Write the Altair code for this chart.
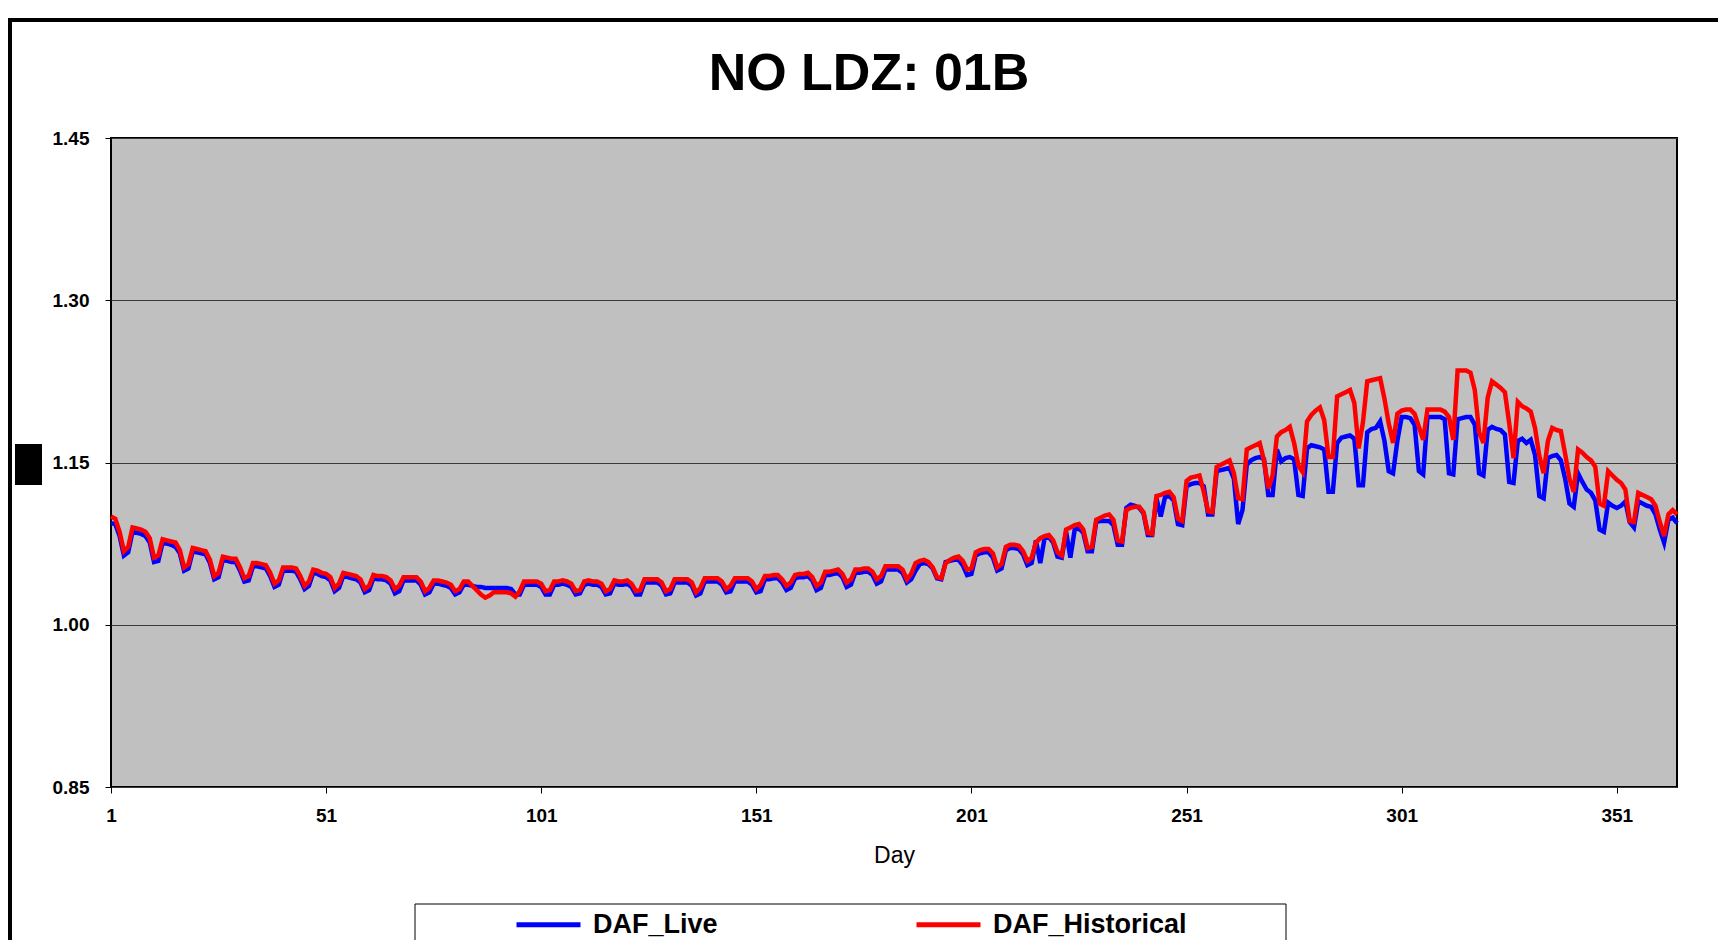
import altair as alt
import pandas as pd

# ---------------- data ----------------
days = list(range(1, 366))

daf_historical = [
    1.100, 1.098, 1.086, 1.068, 1.072,
    1.090, 1.089, 1.088, 1.086, 1.080, 1.062, 1.064,
    1.079, 1.078, 1.077, 1.076, 1.069, 1.053, 1.056,
    1.071, 1.070, 1.069, 1.068, 1.060, 1.045, 1.048,
    1.063, 1.062, 1.061, 1.061, 1.053, 1.043, 1.045,
    1.057, 1.057, 1.056, 1.055, 1.048, 1.038, 1.041,
    1.053, 1.053, 1.053, 1.052, 1.045, 1.036, 1.040,
    1.051, 1.050, 1.048, 1.047, 1.044, 1.034, 1.038,
    1.048, 1.047, 1.046, 1.045, 1.042, 1.033, 1.036,
    1.046, 1.045, 1.045, 1.044, 1.041, 1.033, 1.036,
    1.044, 1.044, 1.044, 1.044, 1.040, 1.031, 1.034,
    1.041, 1.041, 1.040, 1.039, 1.037, 1.031, 1.033,
    1.040, 1.040, 1.036, 1.032, 1.028, 1.025, 1.027,
    1.030, 1.030, 1.030, 1.030, 1.029, 1.026, 1.031,
    1.040, 1.040, 1.040, 1.040, 1.038, 1.031, 1.032,
    1.040, 1.040, 1.041, 1.040, 1.038, 1.031, 1.032,
    1.040, 1.041, 1.040, 1.040, 1.038, 1.031, 1.033,
    1.041, 1.040, 1.040, 1.041, 1.038, 1.031, 1.032,
    1.042, 1.042, 1.042, 1.042, 1.039, 1.031, 1.033,
    1.042, 1.042, 1.042, 1.042, 1.039, 1.030, 1.034,
    1.043, 1.043, 1.043, 1.043, 1.040, 1.033, 1.036,
    1.043, 1.043, 1.043, 1.043, 1.040, 1.033, 1.037,
    1.045, 1.045, 1.046, 1.046, 1.042, 1.036, 1.039,
    1.046, 1.047, 1.047, 1.048, 1.044, 1.036, 1.039,
    1.049, 1.049, 1.050, 1.051, 1.047, 1.039, 1.042,
    1.051, 1.051, 1.052, 1.052, 1.049, 1.042, 1.045,
    1.054, 1.054, 1.054, 1.054, 1.051, 1.042, 1.047,
    1.057, 1.059, 1.060, 1.058, 1.053, 1.044, 1.043,
    1.057, 1.060, 1.062, 1.063, 1.059, 1.051, 1.052,
    1.067, 1.069, 1.070, 1.070, 1.066, 1.053, 1.056,
    1.072, 1.074, 1.074, 1.073, 1.068, 1.059, 1.062,
    1.076, 1.080, 1.082, 1.083, 1.078, 1.067, 1.064,
    1.088, 1.090, 1.092, 1.093, 1.088, 1.071, 1.072,
    1.097, 1.099, 1.101, 1.102, 1.097, 1.078, 1.077,
    1.106, 1.108, 1.109, 1.109, 1.104, 1.085, 1.084,
    1.119, 1.120, 1.122, 1.123, 1.118, 1.098, 1.096,
    1.133, 1.136, 1.137, 1.138, 1.123, 1.105, 1.104,
    1.146, 1.148, 1.150, 1.152, 1.140, 1.117, 1.116,
    1.162, 1.164, 1.166, 1.168, 1.152, 1.126, 1.138,
    1.174, 1.178, 1.180, 1.183, 1.168, 1.147, 1.141,
    1.188, 1.194, 1.198, 1.201, 1.189, 1.155, 1.155,
    1.211, 1.213, 1.215, 1.217, 1.205, 1.163, 1.187,
    1.225, 1.226, 1.227, 1.228, 1.209, 1.186, 1.168,
    1.195, 1.198, 1.199, 1.199, 1.195, 1.183, 1.171,
    1.199, 1.199, 1.199, 1.199, 1.197, 1.192, 1.171,
    1.235, 1.235, 1.235, 1.233, 1.217, 1.178, 1.168,
    1.210, 1.225, 1.222, 1.219, 1.215, 1.186, 1.154,
    1.206, 1.202, 1.200, 1.197, 1.182, 1.156, 1.140,
    1.170, 1.182, 1.180, 1.179, 1.158, 1.135, 1.123,
    1.162, 1.159, 1.155, 1.152, 1.146, 1.112, 1.110,
    1.142, 1.138, 1.134, 1.131, 1.125, 1.096, 1.095,
    1.122, 1.120, 1.118, 1.116, 1.110, 1.095, 1.082,
    1.102, 1.106, 1.102,
]

daf_live = [
    1.094, 1.093, 1.082, 1.064, 1.067,
    1.086, 1.085, 1.084, 1.082, 1.076, 1.058, 1.059,
    1.076, 1.075, 1.074, 1.072, 1.066, 1.050, 1.052,
    1.068, 1.067, 1.066, 1.065, 1.057, 1.042, 1.044,
    1.060, 1.059, 1.058, 1.058, 1.050, 1.040, 1.041,
    1.054, 1.054, 1.053, 1.052, 1.045, 1.035, 1.037,
    1.050, 1.050, 1.050, 1.049, 1.042, 1.033, 1.036,
    1.048, 1.047, 1.045, 1.044, 1.041, 1.031, 1.034,
    1.045, 1.044, 1.043, 1.042, 1.039, 1.030, 1.032,
    1.043, 1.042, 1.042, 1.041, 1.038, 1.029, 1.031,
    1.041, 1.041, 1.041, 1.041, 1.037, 1.028, 1.030,
    1.038, 1.038, 1.037, 1.036, 1.034, 1.028, 1.030,
    1.037, 1.037, 1.036, 1.035, 1.035, 1.034, 1.034,
    1.034, 1.034, 1.034, 1.034, 1.033, 1.028, 1.028,
    1.037, 1.037, 1.037, 1.037, 1.035, 1.028, 1.028,
    1.037, 1.037, 1.038, 1.037, 1.035, 1.028, 1.029,
    1.037, 1.038, 1.037, 1.037, 1.035, 1.028, 1.029,
    1.038, 1.037, 1.037, 1.038, 1.035, 1.028, 1.028,
    1.039, 1.039, 1.039, 1.039, 1.036, 1.028, 1.029,
    1.039, 1.039, 1.039, 1.039, 1.036, 1.027, 1.029,
    1.040, 1.040, 1.040, 1.040, 1.037, 1.030, 1.031,
    1.040, 1.040, 1.040, 1.040, 1.037, 1.030, 1.031,
    1.042, 1.042, 1.043, 1.043, 1.039, 1.032, 1.034,
    1.043, 1.044, 1.044, 1.045, 1.041, 1.032, 1.034,
    1.046, 1.046, 1.047, 1.048, 1.044, 1.035, 1.037,
    1.048, 1.048, 1.049, 1.049, 1.046, 1.038, 1.040,
    1.051, 1.051, 1.051, 1.051, 1.048, 1.039, 1.042,
    1.050, 1.056, 1.057, 1.056, 1.052, 1.043, 1.042,
    1.058, 1.059, 1.060, 1.060, 1.055, 1.046, 1.047,
    1.064, 1.066, 1.067, 1.067, 1.062, 1.050, 1.052,
    1.069, 1.071, 1.071, 1.070, 1.065, 1.055, 1.057,
    1.078, 1.057, 1.080, 1.081, 1.076, 1.063, 1.062,
    1.086, 1.062, 1.088, 1.089, 1.085, 1.068, 1.068,
    1.095, 1.096, 1.096, 1.096, 1.092, 1.074, 1.074,
    1.108, 1.111, 1.110, 1.108, 1.103, 1.083, 1.083,
    1.117, 1.100, 1.118, 1.119, 1.115, 1.093, 1.092,
    1.128, 1.130, 1.131, 1.131, 1.128, 1.102, 1.102,
    1.142, 1.143, 1.144, 1.145, 1.135, 1.093, 1.106,
    1.148, 1.152, 1.154, 1.155, 1.153, 1.120, 1.120,
    1.162, 1.151, 1.154, 1.155, 1.153, 1.120, 1.119,
    1.163, 1.166, 1.165, 1.164, 1.162, 1.123, 1.123,
    1.168, 1.173, 1.174, 1.175, 1.172, 1.129, 1.129,
    1.178, 1.181, 1.182, 1.188, 1.170, 1.142, 1.140,
    1.170, 1.192, 1.192, 1.191, 1.185, 1.142, 1.139,
    1.192, 1.192, 1.192, 1.192, 1.190, 1.140, 1.139,
    1.190, 1.191, 1.192, 1.192, 1.185, 1.140, 1.138,
    1.180, 1.183, 1.181, 1.180, 1.176, 1.132, 1.131,
    1.170, 1.172, 1.168, 1.171, 1.157, 1.119, 1.117,
    1.154, 1.156, 1.157, 1.152, 1.135, 1.112, 1.109,
    1.140, 1.132, 1.125, 1.122, 1.115, 1.088, 1.086,
    1.113, 1.110, 1.108, 1.110, 1.114, 1.095, 1.090,
    1.114, 1.112, 1.110, 1.109, 1.102, 1.088, 1.076,
    1.097, 1.099, 1.094,
]

series_names = ["DAF_Live", "DAF_Historical"]
series_colors = ["#0000FF", "#FF0000"]
y_ticks = [0.85, 1.00, 1.15, 1.30, 1.45]
x_ticks = [1, 51, 101, 151, 201, 251, 301, 351]
title_text = "NO LDZ: 01B"
x_title = "Day"

assert len(daf_live) == len(days) == len(daf_historical)

df = pd.DataFrame({
    "Day": days + days,
    "DAF": daf_live + daf_historical,
    "Series": ["DAF_Live"] * len(days) + ["DAF_Historical"] * len(days),
})

FONT = "Liberation Sans"
W, H = 1566, 649

x_enc = alt.X(
    "Day:Q",
    scale=alt.Scale(domain=[1, 365], nice=False, zero=False),
    axis=alt.Axis(
        values=x_ticks, title=x_title, grid=False, domain=False,
        labelFont=FONT, labelFontSize=19, labelFontWeight="bold", labelColor="black",
        labelPadding=13, labelFlush=False,
        tickColor="black", tickSize=6, tickWidth=1,
        titleFont=FONT, titleFontSize=23, titleFontWeight="normal", titleColor="black",
        titlePadding=19,
    ),
)
y_enc = alt.Y(
    "DAF:Q",
    scale=alt.Scale(domain=[0.85, 1.45], nice=False, zero=False),
    axis=alt.Axis(
        values=y_ticks, format=".2f", title=None, grid=True, domain=False,
        gridColor="#3a3a3a", gridWidth=1, gridOpacity=1,
        labelFont=FONT, labelFontSize=19, labelFontWeight="bold", labelColor="black",
        labelPadding=16, tickColor="black", tickSize=6, tickWidth=1,
    ),
)
color_enc = alt.Color(
    "Series:N",
    scale=alt.Scale(domain=series_names, range=series_colors),
    legend=alt.Legend(
        orient="none", legendX=403, legendY=752, direction="horizontal",
        title=None, symbolType="stroke", symbolStrokeWidth=5, symbolSize=4096,
        labelFont=FONT, labelFontSize=27, labelFontWeight="bold", labelColor="black",
        labelOffset=10, columnPadding=188, padding=0, labelLimit=400,
    ),
)

base = alt.Chart(df).encode(x=x_enc, y=y_enc, color=color_enc)
live_layer = base.transform_filter(alt.datum.Series == "DAF_Live").mark_line(strokeWidth=4.5)
hist_layer = base.transform_filter(alt.datum.Series == "DAF_Historical").mark_line(strokeWidth=4.5)

deco = pd.DataFrame({"k": [0]})
frame = alt.Chart(deco).mark_rect(fillOpacity=0, stroke="black", strokeWidth=4, clip=False).encode(
    x=alt.value(-101), x2=alt.value(1700), y=alt.value(-118), y2=alt.value(900)
)
black_box = alt.Chart(deco).mark_rect(color="black", clip=False).encode(
    x=alt.value(-96), x2=alt.value(-69), y=alt.value(306), y2=alt.value(347)
)
legend_box = alt.Chart(deco).mark_rect(fill="white", stroke="black", strokeWidth=1, clip=False).encode(
    x=alt.value(304), x2=alt.value(1175), y=alt.value(766), y2=alt.value(807)
)

chart = alt.layer(frame, black_box, legend_box, live_layer, hist_layer).properties(
    width=W, height=H,
    background="white",
    title=alt.Title(title_text, font=FONT, fontSize=52, fontWeight="bold", color="black",
                    anchor="middle", dx=-25, dy=124, offset=0, frame="group",
                    baseline="alphabetic"),
    autosize=alt.AutoSizeParams(type="none"),
    padding={"left": 103, "top": 130, "right": 41, "bottom": 153},
).configure_view(
    fill="#C0C0C0", stroke="black", strokeWidth=2
)

chart.save("out.html", embed_options={"renderer": "svg", "actions": False})
